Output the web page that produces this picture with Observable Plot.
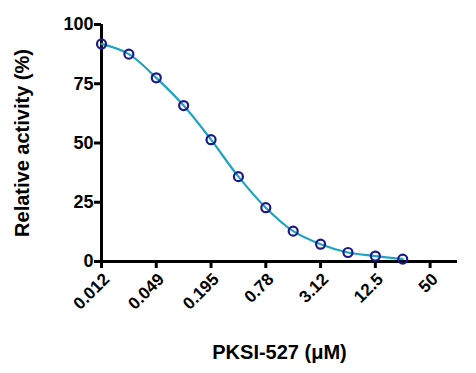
<!DOCTYPE html>
<html><head><meta charset="utf-8">
<script src="https://cdn.jsdelivr.net/npm/d3@7"></script>
<script src="https://cdn.jsdelivr.net/npm/@observablehq/plot@0.6"></script>
<style>body{margin:0;background:#fff} #chart svg{font-family:"Liberation Sans",Arial,sans-serif;background:#fff}</style>
</head><body><div id="chart"></div><script>
const concentrations = [0.01220703125, 0.0244140625, 0.048828125, 0.09765625, 0.1953125, 0.390625, 0.78125, 1.5625, 3.125, 6.25, 12.5, 25];
const activity = [91.8, 87.5, 77.5, 65.8, 51.4, 35.8, 22.7, 12.8, 7.3, 3.8, 2.3, 1.0];
const xTickValues = [0.01220703125, 0.048828125, 0.1953125, 0.78125, 3.125, 12.5, 50];
const xTickLabels = ["0.012", "0.049", "0.195", "0.78", "3.12", "12.5", "50"];
const yTickValues = [0, 25, 50, 75, 100];
const xDomain = [0.01220703125, 100];
const yDomain = [0, 100];
const xTitle = "PKSI-527 (\u03BCM)";
const yTitle = "Relative activity (%)";

const data = concentrations.map((c, i) => ({c, a: activity[i]}));
const xTicks = xTickValues.map((v, i) => ({v, label: xTickLabels[i]}));

const chart = Plot.plot({
  width: 476,
  height: 373,
  marginLeft: 101,
  marginRight: 19,
  marginTop: 24,
  marginBottom: 112,
  x: {type: "log", domain: xDomain},
  y: {domain: yDomain},
  marks: [
    Plot.axisY({ticks: yTickValues, tickSize: 7, strokeWidth: 3, tickPadding: 1, fontSize: 18, fontWeight: "bold", label: null}),
    Plot.axisX({ticks: xTickValues, tickFormat: () => "", tickSize: 7, strokeWidth: 3, label: null}),
    Plot.text(xTicks, {x: "v", y: () => 0, text: "label", rotate: -45, textAnchor: "end", lineAnchor: "middle", dx: 5, dy: 15, fontSize: 17, fontWeight: "bold", fill: "#000"}),
    Plot.ruleY([0], {x1: xDomain[0], x2: xDomain[1], strokeWidth: 3, stroke: "#000"}),
    Plot.ruleX([xDomain[0]], {y1: 0, y2: 100, strokeWidth: 3, stroke: "#000"}),
    Plot.line(data, {x: "c", y: "a", curve: "catmull-rom", stroke: "#1fa3c3", strokeWidth: 2.2}),
    Plot.dot(data, {x: "c", y: "a", r: 4.5, stroke: "#1a1a8c", strokeWidth: 2.2, fill: "none"}),
    Plot.text([xTitle], {frameAnchor: "bottom", dy: 91, fontSize: 20, fontWeight: "bold", fill: "#000", lineAnchor: "middle", textAnchor: "middle"}),
    Plot.text([yTitle], {frameAnchor: "left", dx: -79, rotate: -90, fontSize: 20, fontWeight: "bold", fill: "#000", lineAnchor: "middle", textAnchor: "middle"})
  ]
});
document.getElementById("chart").append(chart);
</script></body></html>
